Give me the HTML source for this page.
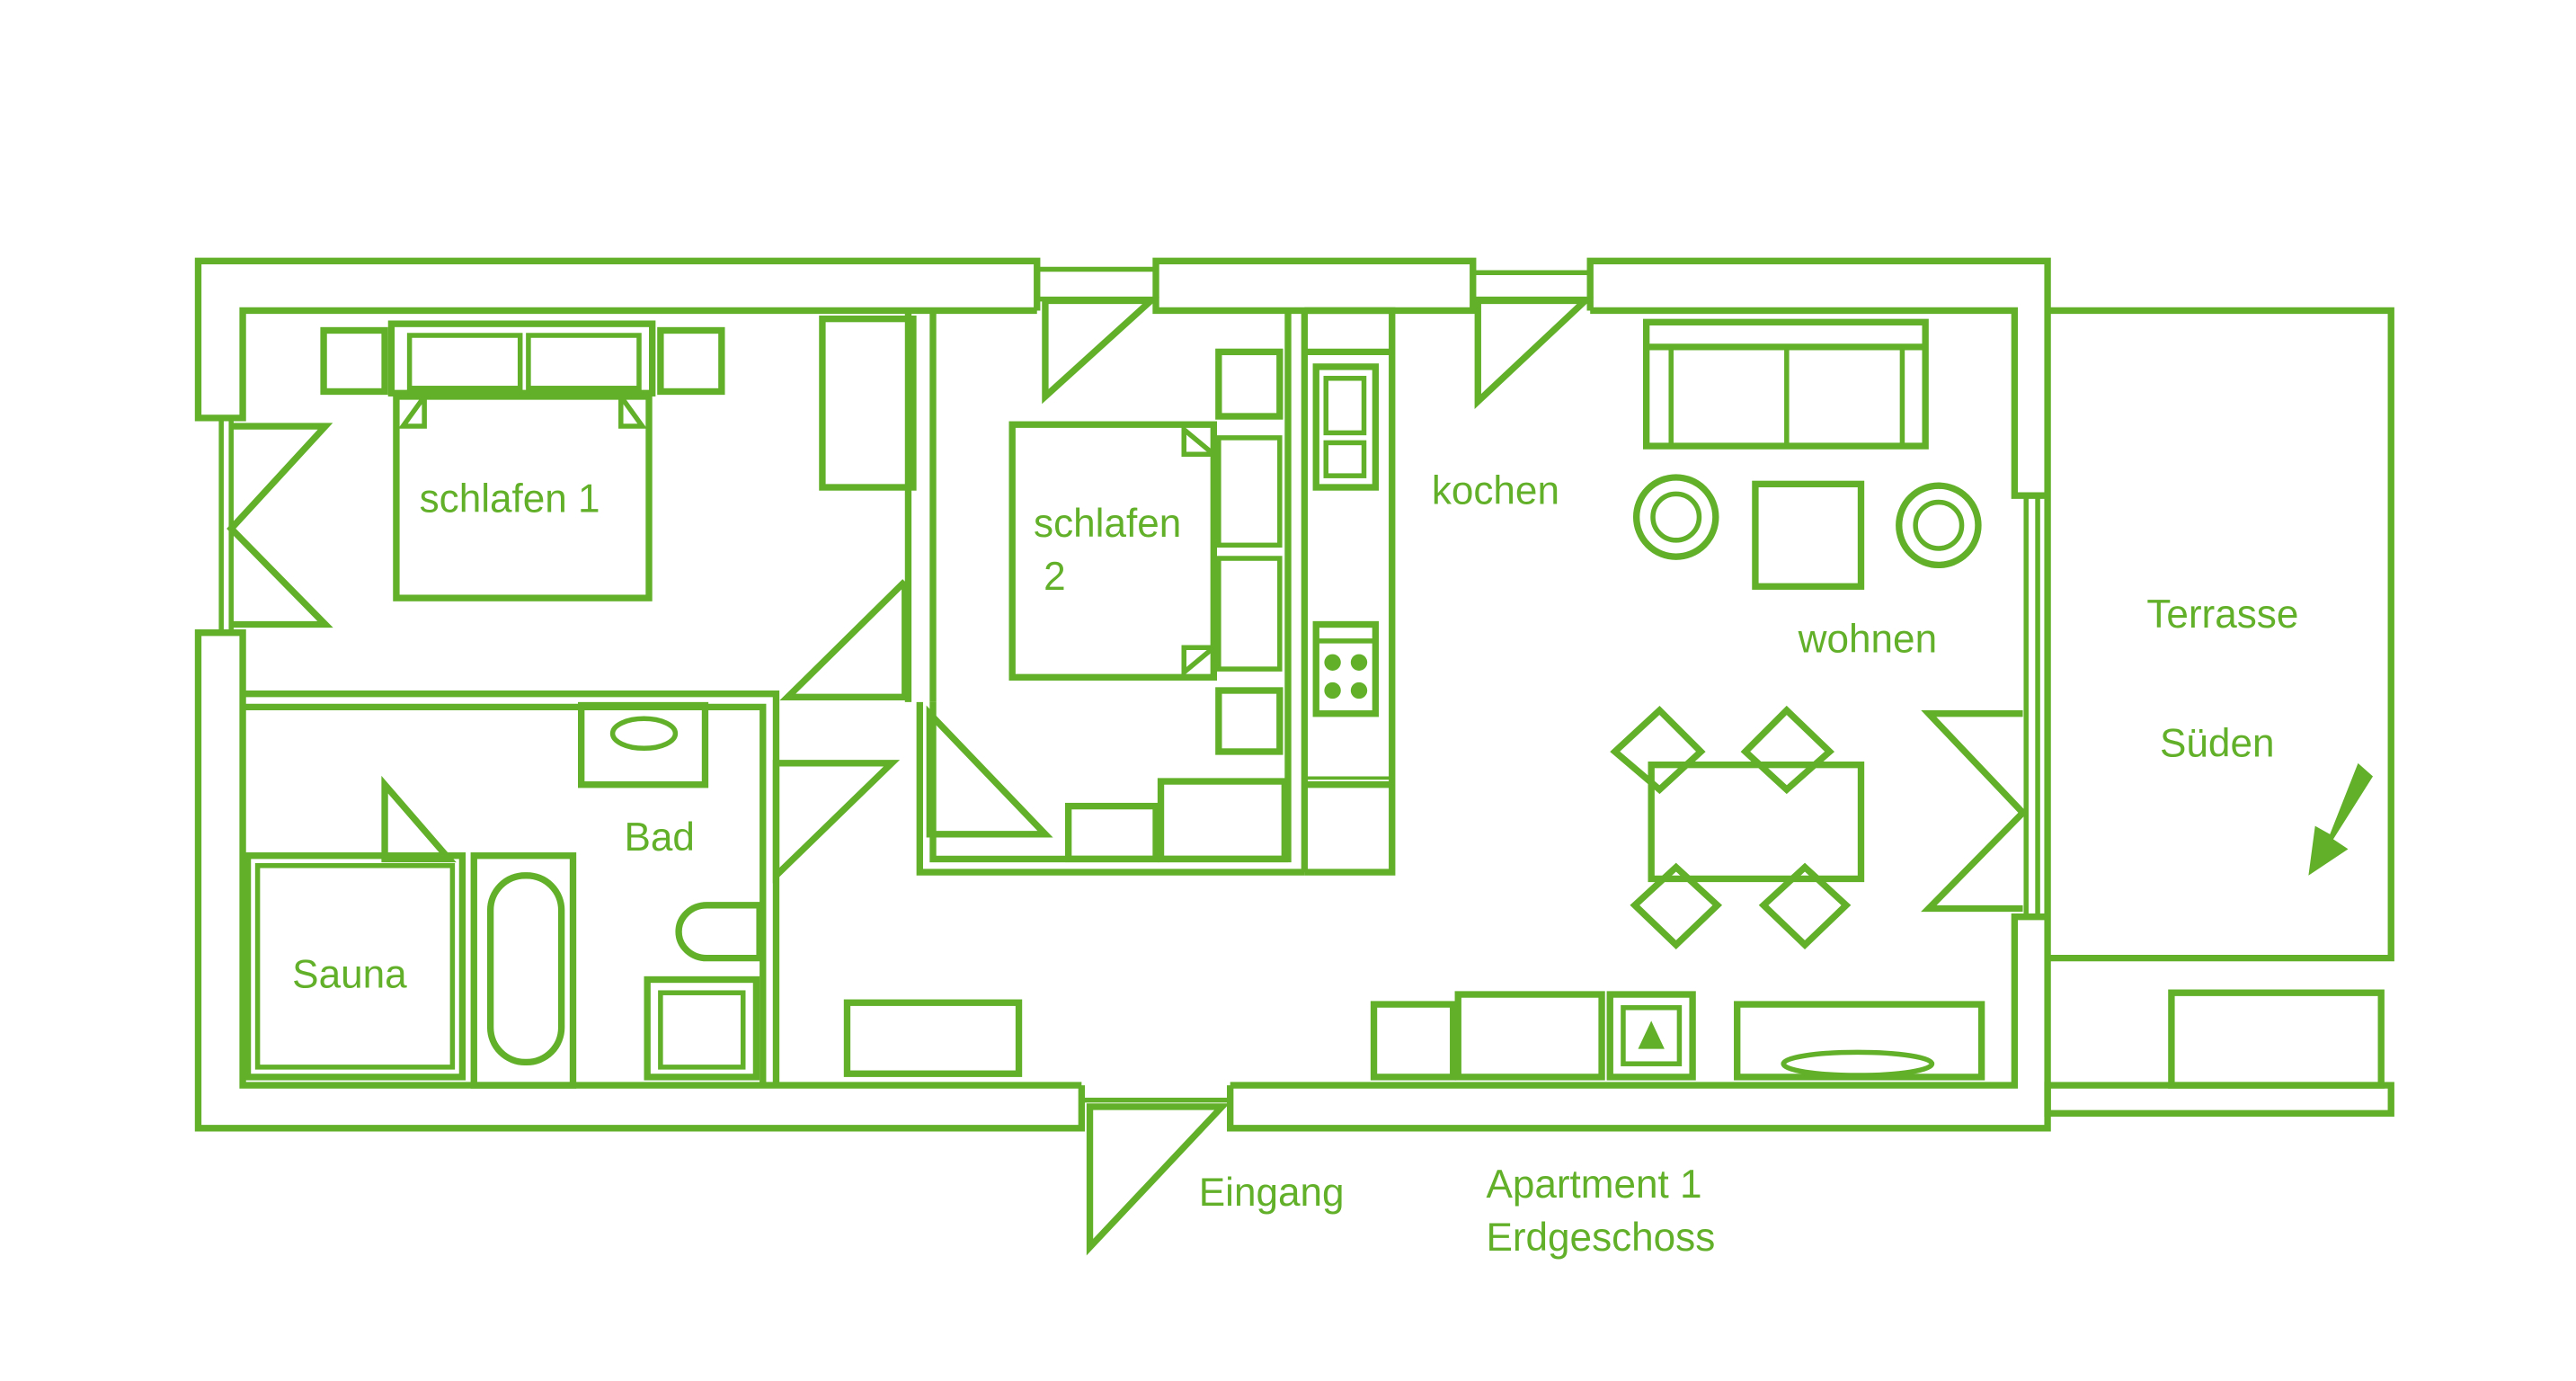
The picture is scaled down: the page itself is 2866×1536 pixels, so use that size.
<!DOCTYPE html>
<html><head><meta charset="utf-8"><style>
html,body{margin:0;padding:0;background:#fff;}
svg{display:block;}
text{font-family:"Liberation Sans",sans-serif;font-size:24px;fill:#62b02a;}
</style></head><body>
<svg width="2866" height="1536" viewBox="0 0 1560 836" xmlns="http://www.w3.org/2000/svg">
<g fill="none" stroke="#62b02a" stroke-width="4" stroke-linejoin="miter">
<polyline points="628,188 628,158 120,158 120,253 147,253 147,188 628,188"/>
<line x1="628" y1="163" x2="700" y2="163" stroke-width="3"/>
<line x1="628" y1="181" x2="700" y2="181" stroke-width="3"/>
<polygon points="700,158 892,158 892,188 700,188"/>
<line x1="892" y1="165" x2="963" y2="165" stroke-width="3"/>
<line x1="892" y1="181" x2="963" y2="181" stroke-width="3"/>
<polyline points="963,188 963,158 1240,158 1240,683 745,683 745,657"/>
<polyline points="963,188 1220,188 1220,300 1240,300"/>
<line x1="1227" y1="300" x2="1227" y2="555" stroke-width="3"/>
<line x1="1234" y1="300" x2="1234" y2="555" stroke-width="3"/>
<polyline points="1240,555 1220,555 1220,657 745,657"/>
<line x1="655" y1="666" x2="745" y2="666" stroke-width="3"/>
<polyline points="655,657 655,683 120,683 120,383 147,383 147,657 655,657"/>
<line x1="134" y1="253" x2="134" y2="383" stroke-width="3"/>
<line x1="140" y1="253" x2="140" y2="383" stroke-width="3"/>
<polyline points="140,258 197,258 140,320 197,378 140,378"/>
<polyline points="1240,188 1448,188 1448,580 1240,580"/>
<rect x="1240" y="657" width="208" height="17"/>
<rect x="1315" y="601" width="127" height="56"/>
<polygon points="1428,462 1437,470 1413,508 1422,514 1398,530 1402,500 1411,505 1428,462" fill="#62b02a" stroke="none"/>
<line x1="550" y1="188" x2="550" y2="425"/>
<line x1="565" y1="188" x2="565" y2="425"/>
<polyline points="548,352 548,422 477,422 548,352"/>
<rect x="498" y="193" width="55" height="102"/>
<polyline points="147,420 470,420 470,657"/>
<polyline points="147,428 462,428 462,657"/>
<polygon points="470,462 540,462 470,530"/>
<polyline points="557,425 557,528 790,528"/>
<polyline points="565,425 565,520 780,520 780,188"/>
<line x1="790" y1="188" x2="790" y2="528"/>
<polyline points="790,188 843,188 843,528 790,528"/>
<polygon points="563,432 563,505 633,505"/>
<polygon points="633,182 697,182 633,240"/>
<polygon points="895,182 960,182 895,243"/>
<rect x="613" y="257" width="122" height="153"/>
<polygon points="717,260 735,275 717,275" stroke-width="3"/>
<polygon points="717,407 735,392 717,392" stroke-width="3"/>
<rect x="738" y="265" width="37" height="65" stroke-width="3"/>
<rect x="738" y="338" width="37" height="67" stroke-width="3"/>
<rect x="738" y="213" width="37" height="39"/>
<rect x="738" y="418" width="37" height="37"/>
<rect x="647" y="488" width="53" height="32"/>
<rect x="703" y="473" width="75" height="47"/>
<line x1="790" y1="213" x2="843" y2="213"/>
<rect x="797" y="222" width="36" height="73"/>
<rect x="803" y="229" width="23" height="33" stroke-width="3"/>
<rect x="803" y="268" width="23" height="20" stroke-width="3"/>
<rect x="797" y="378" width="36" height="54"/>
<line x1="797" y1="388" x2="833" y2="388" stroke-width="3"/>
<g fill="#62b02a" stroke="none"><circle cx="807" cy="401" r="5"/><circle cx="823" cy="401" r="5"/><circle cx="807" cy="418" r="5"/><circle cx="823" cy="418" r="5"/></g>
<line x1="790" y1="475" x2="843" y2="475"/>
<line x1="790" y1="471" x2="843" y2="471" stroke-width="2"/>
<rect x="240" y="240" width="153" height="122"/>
<rect x="237" y="196" width="158" height="42"/>
<rect x="248" y="203" width="67" height="32" stroke-width="3"/>
<rect x="320" y="203" width="67" height="32" stroke-width="3"/>
<rect x="196" y="200" width="37" height="37"/>
<rect x="400" y="200" width="37" height="37"/>
<polygon points="244,258 257,240 257,258" stroke-width="3"/>
<polygon points="389,258 376,240 376,258" stroke-width="3"/>
<rect x="352" y="427" width="75" height="48"/>
<ellipse cx="390" cy="444" rx="19" ry="9" stroke-width="3"/>
<rect x="392" y="593" width="66" height="59"/>
<rect x="400" y="601" width="50" height="45" stroke-width="3"/>
<path d="M460,548 H428 A17,16 0 0 0 428,580 H460 Z"/>
<rect x="287" y="518" width="60" height="139"/>
<rect x="297" y="530" width="43" height="113" rx="21" ry="21"/>
<rect x="150" y="518" width="130" height="134"/>
<rect x="156" y="524" width="118" height="122" stroke-width="3"/>
<polygon points="233,475 233,520 272,520"/>
<rect x="513" y="607" width="104" height="43"/>
<rect x="997" y="195" width="169" height="75"/>
<line x1="997" y1="210" x2="1166" y2="210"/>
<line x1="1012" y1="210" x2="1012" y2="270" stroke-width="3"/>
<line x1="1082" y1="210" x2="1082" y2="270" stroke-width="3"/>
<line x1="1152" y1="210" x2="1152" y2="270" stroke-width="3"/>
<circle cx="1015" cy="313" r="24"/>
<circle cx="1015" cy="313" r="14" stroke-width="3"/>
<circle cx="1174" cy="318" r="24"/>
<circle cx="1174" cy="318" r="14" stroke-width="3"/>
<rect x="1063" y="293" width="64" height="62"/>
<rect x="1000" y="463" width="127" height="69"/>
<polygon points="978,455 1005,430 1030,455 1005,478"/>
<polygon points="1057,455 1082,430 1108,455 1082,478"/>
<polygon points="990,548 1015,525 1040,548 1015,572"/>
<polygon points="1068,548 1093,525 1118,548 1093,572"/>
<polyline points="1225,432 1168,432 1225,492 1168,550 1225,550"/>
<rect x="832" y="608" width="48" height="44"/>
<rect x="883" y="602" width="87" height="50"/>
<rect x="975" y="602" width="50" height="50"/>
<rect x="983" y="610" width="34" height="34" stroke-width="3"/>
<path d="M992,635 L1000,618 L1008,635 Z" fill="#62b02a" stroke="none"/>
<rect x="1052" y="608" width="148" height="44"/>
<ellipse cx="1125" cy="644" rx="45" ry="7" stroke-width="3"/>
<polygon points="660,670 660,755 740,670"/>
</g>
<text x="254" y="310">schlafen 1</text>
<text x="626" y="325">schlafen</text>
<text x="632" y="357">2</text>
<text x="867" y="305">kochen</text>
<text x="1089" y="395">wohnen</text>
<text x="1300" y="380">Terrasse</text>
<text x="1308" y="458">Süden</text>
<text x="378" y="515">Bad</text>
<text x="177" y="598">Sauna</text>
<text x="726" y="730">Eingang</text>
<text x="900" y="725">Apartment 1</text>
<text x="900" y="757">Erdgeschoss</text>
</svg>
</body></html>
